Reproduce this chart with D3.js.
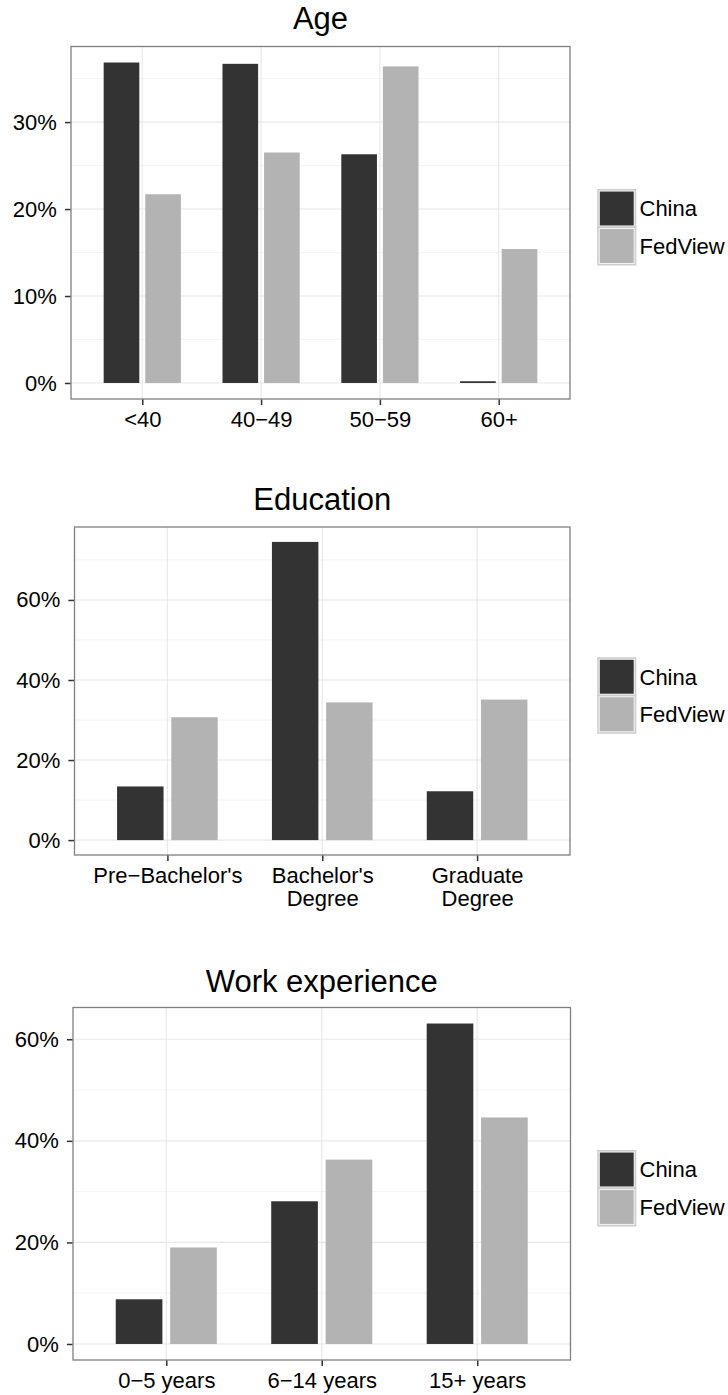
<!DOCTYPE html>
<html>
<head>
<meta charset="utf-8">
<script src="https://cdn.jsdelivr.net/npm/d3@7"></script>
<style>
  html, body { margin: 0; padding: 0; background: #ffffff; }
  svg { display: block; font-family: "Liberation Sans", Arial, Helvetica, sans-serif; }
</style>
</head>
<body>
<svg id="chart" width="728" height="1395"></svg>
<script>
// ---------- data ----------
const seriesNames = ["China", "FedView"];

const ageCategories = ["<40", "40\u221249", "50\u221259", "60+"];
const ageChina      = [36.85, 36.7, 26.3, 0.2];
const ageFedView    = [21.7, 26.5, 36.4, 15.4];
const ageTicks      = [0, 10, 20, 30];
const ageMinorTicks = [5, 15, 25, 35];

const eduCategories = ["Pre\u2212Bachelor's", "Bachelor's\nDegree", "Graduate\nDegree"];
const eduChina      = [13.4, 74.5, 12.2];
const eduFedView    = [30.7, 34.4, 35.1];
const eduTicks      = [0, 20, 40, 60];
const eduMinorTicks = [10, 30, 50, 70];

const workCategories = ["0\u22125 years", "6\u221214 years", "15+ years"];
const workChina      = [8.8, 28.1, 63.1];
const workFedView    = [19.0, 36.3, 44.6];
const workTicks      = [0, 20, 40, 60];
const workMinorTicks = [10, 30, 50];

// ---------- styling / layout ----------
const colors = { China: "#333333", FedView: "#B3B3B3" };
const panels = [
  { title: "Age", cats: ageCategories, china: ageChina, fed: ageFedView, ticks: ageTicks, minor: ageMinorTicks,
    left: 71, right: 570, top: 46.5, bottom: 399, titleY: 28.5 },
  { title: "Education", cats: eduCategories, china: eduChina, fed: eduFedView, ticks: eduTicks, minor: eduMinorTicks,
    left: 74.5, right: 570, top: 527, bottom: 855, titleY: 510 },
  { title: "Work experience", cats: workCategories, china: workChina, fed: workFedView, ticks: workTicks, minor: workMinorTicks,
    left: 73, right: 570.5, top: 1007.5, bottom: 1360, titleY: 991.5 }
];

const svg = d3.select("#chart");
const tickFont = 22;
const titleFont = 31;

panels.forEach(p => {
  const g = svg.append("g");
  const x = d3.scalePoint().domain(p.cats).range([p.left, p.right]).padding(0.6);
  const step = x.step();
  const maxV = d3.max(p.china.concat(p.fed));
  const y = d3.scaleLinear().domain([-0.05 * maxV, 1.05 * maxV]).range([p.bottom, p.top]);

  g.append("rect").attr("x", p.left).attr("y", p.top)
    .attr("width", p.right - p.left).attr("height", p.bottom - p.top).attr("fill", "#ffffff");

  // minor grid
  g.selectAll(".minor").data(p.minor.filter(v => y(v) > p.top)).enter().append("line")
    .attr("x1", p.left).attr("x2", p.right).attr("y1", d => y(d)).attr("y2", d => y(d))
    .attr("stroke", "#F4F4F4").attr("stroke-width", 1);
  // major grid
  g.selectAll(".majorY").data(p.ticks).enter().append("line")
    .attr("x1", p.left).attr("x2", p.right).attr("y1", d => y(d)).attr("y2", d => y(d))
    .attr("stroke", "#E8E8E8").attr("stroke-width", 1.1);
  g.selectAll(".majorX").data(p.cats).enter().append("line")
    .attr("y1", p.top).attr("y2", p.bottom).attr("x1", d => x(d)).attr("x2", d => x(d))
    .attr("stroke", "#E8E8E8").attr("stroke-width", 1.1);

  // bars
  const barW = 0.3 * step;
  const off = 0.175 * step;
  const rows = [];
  p.cats.forEach((c, i) => {
    rows.push({ cat: c, s: "China", v: p.china[i], dx: -off });
    rows.push({ cat: c, s: "FedView", v: p.fed[i], dx: off });
  });
  g.selectAll(".bar").data(rows).enter().append("rect")
    .attr("x", d => x(d.cat) + d.dx - barW / 2)
    .attr("width", barW)
    .attr("y", d => Math.min(y(d.v), y(0)))
    .attr("height", d => Math.max(0.8, Math.abs(y(0) - y(d.v))))
    .attr("fill", d => colors[d.s]);

  // panel border
  g.append("rect").attr("x", p.left).attr("y", p.top)
    .attr("width", p.right - p.left).attr("height", p.bottom - p.top)
    .attr("fill", "none").attr("stroke", "#7F7F7F").attr("stroke-width", 1.3);

  // y axis
  const yAxis = d3.axisLeft(y).tickValues(p.ticks).tickSize(5.5).tickPadding(8).tickFormat(d => d + "%");
  const ya = g.append("g").attr("transform", `translate(${p.left - 0.6},0)`).call(yAxis);
  ya.select(".domain").remove();
  ya.selectAll(".tick line").attr("stroke", "#333333").attr("stroke-width", 1.5);
  ya.selectAll(".tick text").attr("fill", "#000").style("font-size", tickFont + "px")
    .style("font-family", "'Liberation Sans', Arial, sans-serif");

  // x axis
  const xAxis = d3.axisBottom(x).tickSize(5.5).tickFormat("");
  const xa = g.append("g").attr("transform", `translate(0,${p.bottom + 0.6})`).call(xAxis);
  xa.select(".domain").remove();
  xa.selectAll(".tick line").attr("stroke", "#333333").attr("stroke-width", 1.5);
  xa.selectAll(".tick").each(function(d) {
    const t = d3.select(this).append("text")
      .attr("text-anchor", "middle").attr("fill", "#000")
      .style("font-size", tickFont + "px");
    d.split("\n").forEach((line, li) => {
      t.append("tspan").attr("x", 0).attr("y", 27.5 + li * 23).text(line);
    });
  });

  // title
  g.append("text").attr("x", (p.left + p.right) / 2).attr("y", p.titleY)
    .attr("text-anchor", "middle").style("font-size", titleFont + "px").attr("fill", "#000")
    .text(p.title);

  // legend
  const keySize = 37.5;
  const lx = 598;
  const ly = (p.top + p.bottom) / 2 - 33;
  seriesNames.forEach((s, i) => {
    const ky = ly + i * keySize;
    g.append("rect").attr("x", lx).attr("y", ky).attr("width", keySize).attr("height", keySize)
      .attr("fill", "#F2F2F2").attr("stroke", "#CCCCCC").attr("stroke-width", 1.5);
    g.append("rect").attr("x", lx + 1.8).attr("y", ky + 1.8)
      .attr("width", keySize - 3.6).attr("height", keySize - 3.6).attr("fill", colors[s]);
    g.append("text").attr("x", lx + keySize + 4).attr("y", ky + keySize / 2)
      .attr("dy", "0.36em").style("font-size", tickFont + "px").attr("fill", "#000").text(s);
  });
});
</script>
</body>
</html>
